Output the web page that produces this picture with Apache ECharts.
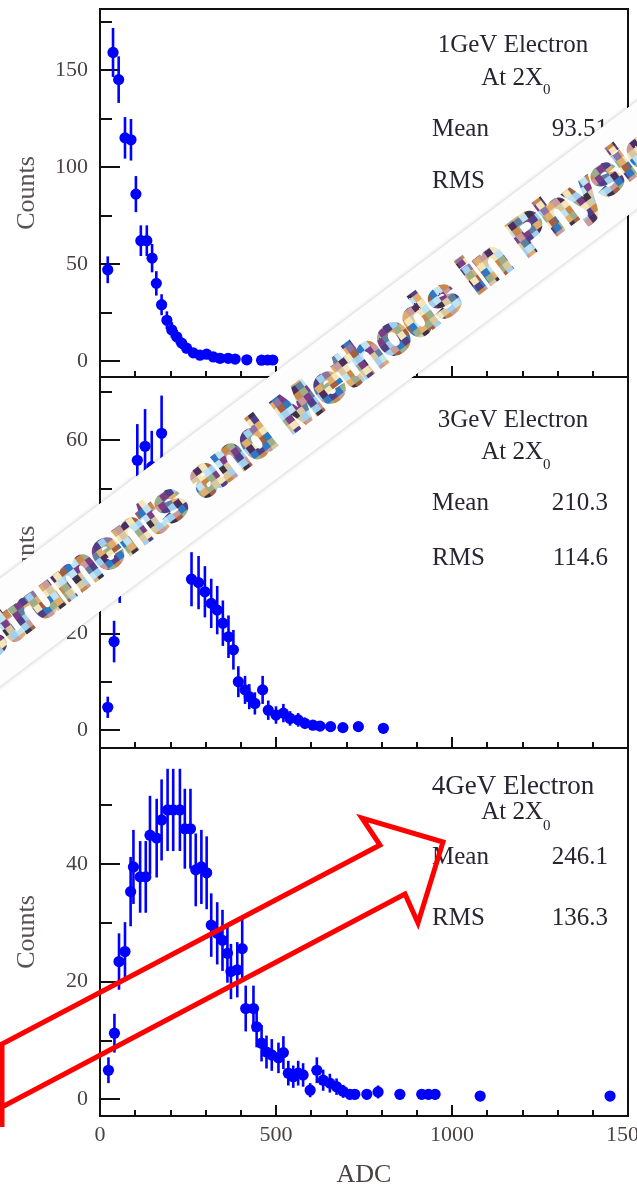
<!DOCTYPE html>
<html><head><meta charset="utf-8">
<script src="https://cdn.jsdelivr.net/npm/echarts@6/dist/echarts.min.js"></script>
<style>html,body{margin:0;padding:0;background:#fff}#c{width:637px;height:1192px}</style>
</head><body><div id="c"></div>
<script>
// ---------- data ----------
const adc1 = [22, 37, 53, 71, 88, 102, 116, 133, 148, 160, 175, 190, 204, 218, 232, 246, 265, 284, 303, 322, 341, 364, 384, 417, 459, 476, 491];
const counts1 = [47, 159, 145, 115, 114, 86, 62, 62, 53, 40, 29, 21, 16, 12.5, 9.2, 6.6, 4.2, 3, 3.5, 2.1, 1.4, 1.4, 1, 0.6, 0.4, 0.5, 0.5];
const err1 = [6.9, 12.6, 12, 10.7, 10.7, 9.3, 7.9, 7.9, 7.3, 6.3, 5.4, 4.6, 4, 3.5, 3, 2.6, 2, 1.7, 1.9, 1.4, 1.2, 1.2, 1, 0.8, 0.6, 0.7, 0.7];

const adc2 = [22, 40, 56, 72, 88, 106, 128, 147, 175, 192, 208, 224, 240, 260, 280, 298, 316, 333, 349, 365, 379, 393, 412, 424, 440, 462, 478, 500, 521, 540, 563, 582, 605, 625, 655, 690, 734, 805];
const counts2 = [4.7, 18.3, 32, 38, 42, 55.8, 58.7, 54.5, 61.4, 49, 48, 46, 45, 31.2, 30.5, 28.6, 26.2, 24.8, 22.1, 19.3, 16.6, 10, 8.3, 6.9, 5.5, 8.3, 4.1, 3.1, 3.5, 2.4, 2.1, 1.4, 1.0, 0.8, 0.7, 0.5, 0.7, 0.35];
const err2 = [2.2, 4.3, 5.7, 6.2, 6.5, 7.5, 7.7, 7.4, 7.8, 7.0, 6.9, 6.8, 6.7, 5.6, 5.5, 5.3, 5.1, 5, 4.7, 4.4, 4.1, 3.2, 2.9, 2.6, 2.3, 2.9, 2, 1.8, 1.9, 1.5, 1.4, 1.2, 1, 0.9, 0.8, 0.7, 0.8, 0.6];

const adc3 = [24, 41, 54, 71, 87, 95, 114, 130, 142, 161, 175, 192, 208, 227, 241, 257, 272, 288, 303, 316, 333, 348, 362, 372, 390, 404, 414, 436, 445, 459, 473, 488, 507, 521, 535, 549, 563, 577, 597, 616, 634, 653, 672, 691, 710, 724, 758, 790, 852, 914, 933, 952, 1080, 1449];
const counts3 = [4.9, 11.2, 23.4, 25.1, 35.3, 39.5, 37.8, 37.8, 44.9, 44.4, 47.5, 49.2, 49.2, 49.2, 46, 46, 39, 39.5, 38.5, 29.6, 28.2, 27, 24.8, 21.7, 22, 25.6, 15.4, 15.4, 12.3, 9.5, 8, 7.5, 7, 7.9, 4.4, 3.8, 4.4, 4.1, 1.5, 4.9, 3.2, 2.7, 2.1, 1.3, 0.8, 0.8, 0.8, 1.2, 0.8, 0.8, 0.8, 0.8, 0.5, 0.5];
const err3 = [2.2, 3.3, 4.8, 5, 5.9, 6.3, 6.1, 6.1, 6.7, 6.7, 6.9, 7, 7, 7, 6.8, 6.8, 6.2, 6.3, 6.2, 5.4, 5.3, 5.2, 5, 4.7, 4.7, 5.1, 3.9, 3.9, 3.5, 3.1, 2.8, 2.7, 2.6, 2.8, 2.1, 1.9, 2.1, 2, 1.2, 2.2, 1.8, 1.6, 1.4, 1.1, 0.9, 0.9, 0.9, 1.1, 0.9, 0.9, 0.9, 0.9, 0.7, 0.7];

const yMajor1 = [0, 50, 100, 150];   const yMinor1 = [25, 75, 125, 175];
const yMajor2 = [0, 20, 40, 60];     const yMinor2 = [10, 30, 50, 70];
const yMajor3 = [0, 20, 40];         const yMinor3 = [10, 30, 50];
const panelTitles = ['1GeV Electron', '3GeV Electron', '4GeV Electron'];
const meanValues = ['93.51', '210.3', '246.1'];
const rmsValues = ['', '114.6', '136.3'];
const xTitle = 'ADC';
const yTitle = 'Counts';
const bannerText = 'Nuclear Instruments and Methods in Physics Research';

// ---------- layout ----------
const L = 100, W = 528;
const grids = [
  {left: L, top: 9,   width: W, height: 368},
  {left: L, top: 377, width: W, height: 371},
  {left: L, top: 748, width: W, height: 368}
];
const yRanges = [[-8.25, 181.4], [-3.72, 73.04], [-2.89, 59.74]];
const AX = '#111';
const tickFont = {fontFamily: 'Liberation Serif', fontSize: 22, color: '#4a4242'};

function xAxisFor(gi, labels) {
  return {
    type: 'value', gridIndex: gi, min: 0, max: 1500, interval: 500,
    axisLine: {show: true, onZero: false, lineStyle: {color: AX, width: 2}},
    axisTick: {show: true, inside: true, length: 11, lineStyle: {color: AX, width: 2}},
    minorTick: {show: true, splitNumber: 5, length: 6, lineStyle: {color: AX, width: 2}},
    splitLine: {show: false}, minorSplitLine: {show: false},
    axisLabel: Object.assign({show: labels, margin: 8, showMinLabel: true, showMaxLabel: true,
      hideOverlap: false, formatter: v => String(v)}, tickFont),
    name: labels ? xTitle : '', nameLocation: 'middle', nameGap: 46,
    nameTextStyle: {fontFamily: 'Liberation Serif', fontSize: 26, color: '#4a4242'}
  };
}
function yMajorAxis(gi, r, ticks) {
  return {
    type: 'value', gridIndex: gi, min: r[0], max: r[1], position: 'left',
    axisLine: {show: true, onZero: false, lineStyle: {color: AX, width: 2}},
    axisTick: {show: true, inside: true, length: 20, customValues: ticks, lineStyle: {color: AX, width: 2}},
    axisLabel: Object.assign({show: true, margin: 12, customValues: ticks, formatter: v => String(v)}, tickFont),
    splitLine: {show: false},
    name: yTitle, nameLocation: 'middle', nameGap: 60,
    nameTextStyle: {fontFamily: 'Liberation Serif', fontSize: 26, color: '#5a5252'}
  };
}
function yMinorAxis(gi, r, ticks) {
  return {
    type: 'value', gridIndex: gi, min: r[0], max: r[1], position: 'left',
    axisLine: {show: false, onZero: false},
    axisTick: {show: true, inside: true, length: 12, customValues: ticks, lineStyle: {color: AX, width: 2}},
    axisLabel: {show: false}, splitLine: {show: false}
  };
}

function renderErr(params, api) {
  const x = api.value(0), y = api.value(1), e = api.value(2);
  const p = api.coord([x, y]);
  const t = api.coord([x, y + e]);
  const b = api.coord([x, y - e]);
  return {type: 'group', children: [
    {type: 'line', shape: {x1: p[0], y1: t[1], x2: p[0], y2: b[1]}, style: {stroke: '#0000ff', lineWidth: 2.6}},
    {type: 'circle', shape: {cx: p[0], cy: p[1], r: 5.6}, style: {fill: '#0000ff'}}
  ]};
}
function series(gi, adc, cnt, err) {
  return {
    type: 'custom', xAxisIndex: gi, yAxisIndex: gi, renderItem: renderErr,
    encode: {x: 0, y: 1}, clip: false, silent: true,
    data: adc.map((a, i) => [a, cnt[i], err[i]])
  };
}

// mosaic tile for the banner lettering
const palette = ['#4b2d5e', '#7d3c86', '#e2ad6c', '#c9874a', '#9fd0ee', '#2f78c2', '#5f7f9f', '#f3e6b8',
                 '#3b3344', '#c99a9a', '#9aae88', '#8e74a0', '#bfe3f3', '#4e3f86', '#a45f42', '#d9c7a0'];
function mosaicCanvas() {
  const s = 7, n = 13, m = 11;
  const cv = document.createElement('canvas');
  cv.width = s * n; cv.height = s * m;
  const c = cv.getContext('2d');
  for (let i = 0; i < n; i++) for (let j = 0; j < m; j++) {
    c.fillStyle = palette[(i * 7 + j * 5 + ((i * j) % 3)) % palette.length];
    c.fillRect(i * s, j * s, s, s);
  }
  return cv;
}

function txt(x, y, s, size, align, z) {
  return {type: 'text', x: x, y: y, z: z || 50,
    style: {text: s, font: size + 'px "Liberation Serif"', fill: '#2a2432',
      align: align, textAlign: align, verticalAlign: 'middle', textVerticalAlign: 'middle'}};
}

const annY = [
  {t: 45, at: 78, sub: 90, mean: 129, rms: 181, tSize: 25},
  {t: 420, at: 452, sub: 465, mean: 503, rms: 558, tSize: 25},
  {t: 787, at: 812, sub: 826, mean: 857, rms: 918, tSize: 27}
];
const graphics = [];
annY.forEach((a, i) => {
  graphics.push(txt(513, a.t, panelTitles[i], a.tSize, 'center'));
  graphics.push(txt(543, a.at, 'At 2X', 25, 'right'));
  graphics.push(txt(543, a.sub, '0', 15, 'left'));
  graphics.push(txt(432, a.mean, 'Mean', 25, 'left'));
  graphics.push(txt(608, a.mean, meanValues[i], 25, 'right'));
  graphics.push(txt(432, a.rms, 'RMS', 25, 'left'));
  if (rmsValues[i]) graphics.push(txt(608, a.rms, rmsValues[i], 25, 'right'));
});

// diagonal banner on its own layer: text, mosaic kept only inside the glyphs, then white band (and its shadow) behind
const ang = Math.atan(0.75);
const bx = 318.5, by = 632.5 - 0.75 * 318.5;
graphics.push({
  type: 'group', x: bx, y: by, rotation: ang,
  children: [
    {type: 'text', zlevel: 1, z: 101, x: -683, y: 1,
     style: {text: bannerText, font: 'bold 53px "Liberation Sans"', fill: '#5a4a6a',
       stroke: '#5a4a6a', lineWidth: 4,
       align: 'left', textAlign: 'left', verticalAlign: 'middle', textVerticalAlign: 'middle'}},
    {type: 'rect', zlevel: 1, z: 102, silent: true, shape: {x: -900, y: -43, width: 1800, height: 86},
     style: {fill: {image: mosaicCanvas(), repeat: 'repeat'}, blend: 'source-in'}},
    {type: 'rect', zlevel: 1, z: 103, silent: true, shape: {x: -620, y: -43, width: 1240, height: 86},
     style: {fill: '#fdfdfd', blend: 'destination-over'}},
    {type: 'rect', zlevel: 1, z: 104, silent: true, shape: {x: -620, y: -43, width: 1240, height: 86},
     style: {fill: '#fdfdfd', shadowBlur: 4, shadowColor: 'rgba(0,0,0,0.25)', blend: 'destination-over'}}
  ]
});

// red outline arrow
graphics.push({
  type: 'polyline', z: 120,
  shape: {points: [[2, 1127], [2, 1044], [380, 845], [362, 818], [443, 842], [418, 923], [405, 894], [2, 1107]]},
  style: {stroke: '#ff0000', lineWidth: 5, fill: null, lineJoin: 'miter'}
});

const option = {
  animation: false,
  backgroundColor: '#ffffff',
  grid: grids.map(g => Object.assign({show: true, borderColor: AX, borderWidth: 2, backgroundColor: 'transparent',
    containLabel: false, outerBoundsMode: 'none'}, g)),
  xAxis: [xAxisFor(0, false), xAxisFor(1, false), xAxisFor(2, true)],
  yAxis: [
    yMajorAxis(0, yRanges[0], yMajor1), yMajorAxis(1, yRanges[1], yMajor2), yMajorAxis(2, yRanges[2], yMajor3),
    yMinorAxis(0, yRanges[0], yMinor1), yMinorAxis(1, yRanges[1], yMinor2), yMinorAxis(2, yRanges[2], yMinor3)
  ],
  series: [series(0, adc1, counts1, err1), series(1, adc2, counts2, err2), series(2, adc3, counts3, err3)],
  graphic: graphics
};
const chart = echarts.init(document.getElementById('c'), null, {renderer: 'canvas'});
chart.setOption(option);
</script>
</body></html>
